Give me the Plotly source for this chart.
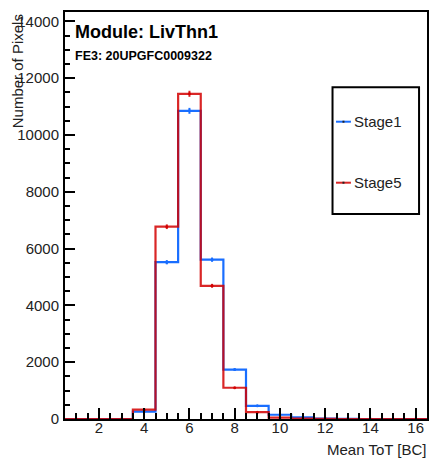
import numpy as np
import plotly.graph_objects as go

# ---- data ----
bin_centers = list(range(1, 17))
stage1 = [0, 0, 0, 260, 5520, 10850, 5610, 1740, 465, 150, 55, 15, 5, 0, 0, 0]
stage5 = [0, 0, 0, 330, 6770, 11450, 4690, 1100, 240, 45, 15, 5, 0, 0, 0, 0]
series_names = ["Stage1", "Stage5"]
x_ticks = [2, 4, 6, 8, 10, 12, 14, 16]
y_ticks = [0, 2000, 4000, 6000, 8000, 10000, 12000, 14000]

BLUE = "rgb(25,110,255)"
RED = "rgba(210,0,0,0.85)"
FONT = "Liberation Sans, Arial, sans-serif"

W, H = 434, 458
L, R, T, B = 65, 5, 12, 39
pw, ph = W - L - R, H - T - B


def px2paper(px, py):
    return (px - L) / pw, (H - B - py) / ph


fig = go.Figure()


def add_hist(vals, name, color):
    c = np.array(bin_centers, dtype=float)
    edges = list(c - 0.5) + [c[-1] + 0.5]
    yy = list(vals) + [vals[-1]]
    fig.add_trace(go.Scatter(x=edges, y=yy, mode="lines", line_shape="hv",
                             line=dict(color=color, width=2.2), name=name,
                             showlegend=False, hoverinfo="skip"))
    fig.add_trace(go.Scatter(x=bin_centers, y=vals, mode="markers",
                             marker=dict(color=color, size=3),
                             error_y=dict(type="data", array=list(np.sqrt(vals)),
                                          color=color, thickness=2, width=0),
                             showlegend=False, name=name))


add_hist(stage1, series_names[0], BLUE)
add_hist(stage5, series_names[1], RED)

fig.update_layout(
    width=W, height=H,
    margin=dict(l=L, r=R, t=T, b=B),
    paper_bgcolor="white", plot_bgcolor="white",
    font=dict(family=FONT, size=15, color="#222"),
)

fig.update_xaxes(range=[0.5, 16.5], tickvals=x_ticks, ticks="inside", ticklen=11,
                 tickwidth=2, tickcolor="black", showline=True, linewidth=2,
                 linecolor="black", mirror=True, showgrid=False, zeroline=False,
                 ticklabelstandoff=-6,
                 minor=dict(dtick=0.5, tick0=0.5, ticks="inside", ticklen=6,
                            tickwidth=2, tickcolor="black", showgrid=False),
                 tickfont=dict(size=15, family=FONT, color="#222"))
fig.update_yaxes(range=[0, 14330], tickvals=y_ticks, tickformat="d", ticks="inside",
                 ticklen=10, tickwidth=2, tickcolor="black", showline=True,
                 linewidth=2, linecolor="black", mirror=True, showgrid=False,
                 zeroline=False, ticklabelstandoff=1,
                 minor=dict(dtick=500, ticks="inside", ticklen=5, tickwidth=2,
                            tickcolor="black", showgrid=False),
                 tickfont=dict(size=15, family=FONT, color="#222"))

ann = []
# axis titles
x0, y0 = px2paper(17, 0)
ann.append(dict(text="Number of Pixels", xref="paper", yref="paper", x=x0, y=1.0,
                xanchor="center", yanchor="top", textangle=-90, showarrow=False,
                font=dict(size=15, family=FONT, color="#222")))
x1, y1 = px2paper(431, 450)
ann.append(dict(text="Mean ToT [BC]", xref="paper", yref="paper", x=x1, y=y1,
                xanchor="right", yanchor="middle", showarrow=False,
                font=dict(size=15, family=FONT, color="#222")))
# header text
xa, ya = px2paper(73, 31.7)
ann.append(dict(text="<b>Module: LivThn1</b>", xref="paper", yref="paper", x=xa, y=ya,
                xanchor="left", yanchor="middle", showarrow=False,
                font=dict(size=18, family=FONT, color="black")))
xb, yb = px2paper(73, 56)
ann.append(dict(text="<b>FE3: 20UPGFC0009322</b>", xref="paper", yref="paper", x=xb, y=yb,
                xanchor="left", yanchor="middle", showarrow=False,
                font=dict(size=12.5, family=FONT, color="black")))

shapes = []
# legend box
bx0, by0 = px2paper(334, 214)
bx1, by1 = px2paper(421, 87.3)
shapes.append(dict(type="rect", xref="paper", yref="paper", x0=bx0, y0=by0, x1=bx1, y1=by1,
                   line=dict(color="black", width=2), fillcolor="white", layer="above"))
for name, color, py in [(series_names[0], BLUE, 121.7), (series_names[1], RED, 182.7)]:
    lx0, ly = px2paper(337.5, py)
    lx1, _ = px2paper(352.5, py)
    shapes.append(dict(type="line", xref="paper", yref="paper", x0=lx0, x1=lx1, y0=ly, y1=ly,
                       line=dict(color=color, width=2), layer="above"))
    shapes.append(dict(type="rect", xref="paper", yref="paper",
                       x0=(344 - L) / pw, x1=(346 - L) / pw,
                       y0=ly - 1 / ph, y1=ly + 1 / ph,
                       line=dict(width=0), fillcolor="#222", layer="above"))
    tx, _ = px2paper(354, py)
    ann.append(dict(text=name, xref="paper", yref="paper", x=tx, y=ly,
                    xanchor="left", yanchor="middle", showarrow=False,
                    font=dict(size=15, family=FONT, color="#222")))

fig.update_layout(annotations=ann, shapes=shapes)
fig.write_html("out.html", config={"displayModeBar": False},
               post_script="document.body.style.margin='0';document.body.style.overflow='hidden';")
